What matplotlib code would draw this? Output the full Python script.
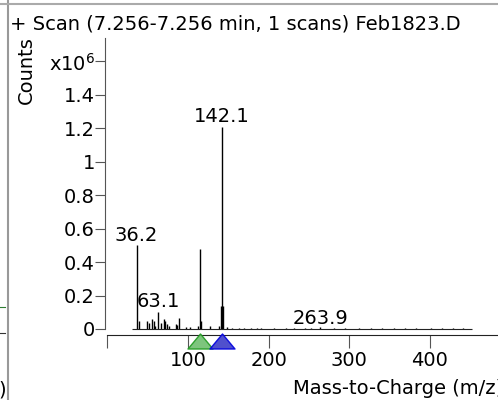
import matplotlib
matplotlib.use("Agg")
import matplotlib.pyplot as plt
from matplotlib.lines import Line2D
from matplotlib.path import Path

plt.rcParams['font.family'] = ['DejaVu Sans']

# ---- data ----
title = "+ Scan (7.256-7.256 min, 1 scans) Feb1823.D"
mz = [36.2, 38.8, 49.6, 51.3, 55.0, 57.5, 59.0, 63.1, 66.0, 70.0, 72.0, 74.0, 76.0,
      85.0, 86.7, 89.0, 98.0, 102.0, 113.0, 115.1, 116.7, 126.7, 139.0, 141.0, 142.1,
      144.0, 148.0, 155.0, 163.0, 170.0, 178.0, 185.0, 191.0, 207.0, 221.0, 232.0,
      245.0, 253.0, 263.9, 281.0, 295.0, 312.0, 327.0, 341.0, 355.0, 369.0, 383.0,
      401.0, 415.0, 429.0, 441.0]
counts_e6 = [0.50, 0.05, 0.05, 0.035, 0.06, 0.05, 0.02, 0.10, 0.035, 0.06, 0.045, 0.03,
             0.02, 0.03, 0.025, 0.065, 0.01, 0.01, 0.02, 0.48, 0.05, 0.02, 0.02, 0.135,
             1.21, 0.135, 0.01, 0.004, 0.005, 0.003, 0.006, 0.004, 0.003, 0.005, 0.004,
             0.006, 0.003, 0.005, 0.012, 0.004, 0.003, 0.005, 0.003, 0.004, 0.003, 0.005,
             0.003, 0.004, 0.003, 0.004, 0.003]
scan_range = [30.0, 452.0]
label_mz = [36.2, 63.1, 142.1, 263.9]
label_txt = ["36.2", "63.1", "142.1", "263.9"]
label_y = [0.50, 0.10, 1.21, 0.0]
precursor_mz = [115.1, 142.1]
precursor_fill = ['#6fbf6f', '#3d3dc8']
precursor_edge = ['#1f9a1f', '#0000e0']
yticks = [0, 0.2, 0.4, 0.6, 0.8, 1.0, 1.2, 1.4, 1.6]
yticklabels = ['0', '0.2', '0.4', '0.6', '0.8', '1', '1.2', '1.4', r'x10$^6$']
xticks = [0, 100, 200, 300, 400]
xticklabels = ['', '100', '200', '300', '400']

W, H = 498, 400
fig = plt.figure(figsize=(W / 100, H / 100), dpi=100)
FS = 14

def fx(px):
    return px / W

def fy(py):
    return 1 - py / H

ax_left, ax_top, ax_bot = 105, 38, 329
ax = fig.add_axes([fx(ax_left), fy(ax_bot), 1 - fx(ax_left), (ax_bot - ax_top) / H])
ax.set_xlim(-2.9, 484.3)
ax.set_ylim(0, 1.74)

ax.vlines(mz, 0, counts_e6, color='black', lw=1.0, clip_on=False)
ax.hlines(0, scan_range[0], scan_range[1], color='#222222', lw=0.8, clip_on=False)

for x, t, y in zip(label_mz, label_txt, label_y):
    ax.text(x, y + 0.005, t, ha='center', va='bottom', fontsize=FS)

# precursor triangles below the axis
tri = Path([(0, 0.6), (-1, -0.6), (1, -0.6), (0, 0.6)],
           [Path.MOVETO, Path.LINETO, Path.LINETO, Path.CLOSEPOLY])
for x, fc, ec in zip(precursor_mz, precursor_fill, precursor_edge):
    ax.plot([x], [-(340.5 - ax_bot) / (ax_bot - ax_top)], marker=tri, ms=18,
            mfc=fc, mec=ec, mew=1.0, alpha=0.9, transform=ax.get_xaxis_transform(),
            clip_on=False, zorder=5)

for s in ['top', 'right']:
    ax.spines[s].set_visible(False)
ax.spines['left'].set_color('#555555')
ax.spines['bottom'].set_color('#222222')
ax.spines['bottom'].set_position(('outward', 4))
ax.spines['bottom'].set_bounds(0, 484.3)

ax.set_yticks(yticks)
ax.set_yticklabels(yticklabels, fontsize=FS)
ax.set_xticks(xticks)
ax.set_xticklabels(xticklabels, fontsize=FS)
ax.tick_params(axis='y', direction='out', length=7.2, width=0.8, color='#555555', pad=0)
ax.tick_params(axis='x', direction='out', length=9, width=0.8, color='#555555', pad=3)

fig.text(fx(10), fy(30), title, fontsize=FS, ha='left', va='baseline')
fig.text(fx(26), fy(70), "Counts", fontsize=FS, rotation=90, ha='center', va='center')
fig.text(fx(293), fy(394), "Mass-to-Charge (m/z)", fontsize=FS, ha='left', va='baseline')
fig.text(fx(-2), fy(396), ")", fontsize=FS, ha='left', va='baseline')

# window frame fragments
fig.add_artist(Line2D([fx(8), fx(8)], [0, 1], color='#999999', lw=1.5))
fig.add_artist(Line2D([0, 1], [fy(4), fy(4)], color='#aaaaaa', lw=1.5))
fig.add_artist(Line2D([0, fx(5)], [fy(307), fy(307)], color='#2e7d32', lw=0.8))
fig.add_artist(Line2D([0, fx(5)], [fy(333), fy(333)], color='#333333', lw=0.8))

fig.savefig("out.png", dpi=100)
